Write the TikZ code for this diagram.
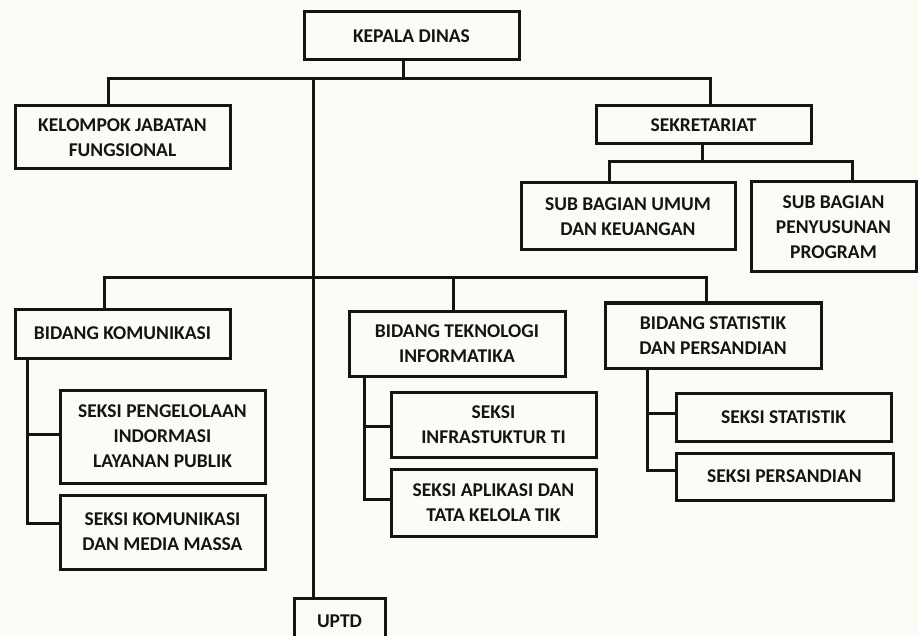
\documentclass[tikz,border=0pt]{standalone}
\usepackage{fontspec}
\setmainfont{Carlito}
\definecolor{paper}{RGB}{252,252,246}
\definecolor{ink}{RGB}{20,20,20}
\begin{document}
\begin{tikzpicture}[x=1pt,y=-1pt,
  unit/.style={draw=ink, line width=3pt, fill=paper, rectangle, inner sep=0pt,
    align=center, text=ink,
    font=\bfseries\fontsize{19.5}{25}\selectfont},
  link/.style={draw=ink, line width=3pt, line cap=rect, line join=miter}]
\fill[paper] (0,0) rectangle (918,636);
\clip (0,0) rectangle (918,636);

% units
\node[unit, minimum width=215, minimum height=48] (kd)   at (411.5,36)  {KEPALA DINAS};
\node[unit, minimum width=215, minimum height=63] (kjf)  at (122.5,137.5) {KELOMPOK JABATAN\\FUNGSIONAL};
\node[unit, minimum width=215, minimum height=38] (sek)  at (703.5,125)  {SEKRETARIAT};
\node[unit, minimum width=214, minimum height=67] (sbu)  at (628,216.5)  {SUB BAGIAN UMUM\\DAN KEUANGAN};
\node[unit, minimum width=165, minimum height=90] (sbp)  at (833.5,227)  {SUB BAGIAN\\PENYUSUNAN\\PROGRAM};
\node[unit, minimum width=215, minimum height=49] (bk)   at (122.5,333.5) {BIDANG KOMUNIKASI};
\node[unit, minimum width=216, minimum height=65] (bt)   at (457,343.5)  {BIDANG TEKNOLOGI\\INFORMATIKA};
\node[unit, minimum width=216, minimum height=65] (bs)   at (713,335.5)  {BIDANG STATISTIK\\DAN PERSANDIAN};
\node[unit, minimum width=205, minimum height=93] (spi)  at (162.5,436.5) {SEKSI PENGELOLAAN\\INDORMASI\\LAYANAN PUBLIK};
\node[unit, minimum width=205, minimum height=74] (skm)  at (162.5,532)  {SEKSI KOMUNIKASI\\DAN MEDIA MASSA};
\node[unit, minimum width=205, minimum height=65] (sinf) at (493.5,424.5) {SEKSI\\INFRASTUKTUR TI};
\node[unit, minimum width=205, minimum height=67] (sapl) at (493.5,502.5) {SEKSI APLIKASI DAN\\TATA KELOLA TIK};
\node[unit, minimum width=215, minimum height=48] (sst)  at (783.5,417)  {SEKSI STATISTIK};
\node[unit, minimum width=217, minimum height=47] (sps)  at (784.5,476.5) {SEKSI PERSANDIAN};
\node[unit, minimum width=91, minimum height=46, anchor=north] (uptd) at (339.5,597) {UPTD};

% junction points
\coordinate (stem) at (403,79);
\coordinate (t1L)  at (108,79);
\coordinate (t1R)  at (710,79);
\coordinate (trunk) at (313,79);
\coordinate (t2L)  at (104,278);
\coordinate (t2M)  at (453,278);
\coordinate (t2R)  at (706,278);
\coordinate (sekj) at (702,162);
\coordinate (sL)   at (609,162);
\coordinate (sR)   at (852,162);
\coordinate (kA)   at (27,434);
\coordinate (kB)   at (27,523);
\coordinate (tA)   at (364,426);
\coordinate (tB)   at (364,499);
\coordinate (pA)   at (647,413);
\coordinate (pB)   at (647,470);

% connectors
\draw[link] (kd.south -| stem) -- (stem);
\draw[link] (t1L |- kjf.north) -- (t1L) -- (t1R) -- (t1R |- sek.north);
\draw[link] (trunk) -- (trunk |- uptd.north);
\draw[link] (t2L |- bk.north) -- (t2L) -- (t2R) -- (t2R |- bs.north);
\draw[link] (t2M) -- (t2M |- bt.north);
\draw[link] (sek.south -| sekj) -- (sekj);
\draw[link] (sL |- sbu.north) -- (sL) -- (sR) -- (sR |- sbp.north);
\draw[link] (kA |- bk.south) -- (kB) -- (kB -| skm.west);
\draw[link] (kA) -- (kA -| spi.west);
\draw[link] (tA |- bt.south) -- (tB) -- (tB -| sapl.west);
\draw[link] (tA) -- (tA -| sinf.west);
\draw[link] (pA |- bs.south) -- (pB) -- (pB -| sps.west);
\draw[link] (pA) -- (pA -| sst.west);
\end{tikzpicture}
\end{document}
